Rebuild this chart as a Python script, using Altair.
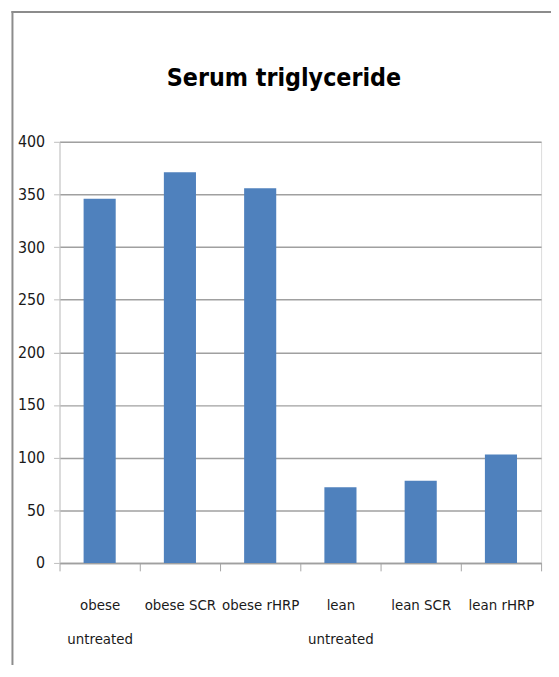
import altair as alt
import pandas as pd

categories = ["obese untreated", "obese SCR", "obese rHRP", "lean untreated", "lean SCR", "lean rHRP"]
values = [346, 371, 356, 72, 78, 103]
y_ticks = [0, 50, 100, 150, 200, 250, 300, 350, 400]
title_text = ["Serum triglyceride"]

df = pd.DataFrame({"group": categories, "value": values})

W, H = 486, 425
FONT = "DejaVu Sans Condensed, sans-serif"

bars = alt.Chart(df).mark_bar(color="#4F81BD", width={"band": 0.4}).encode(
    x=alt.X(
        "group:N",
        sort=categories,
        scale=alt.Scale(paddingInner=0, paddingOuter=0),
        axis=alt.Axis(
            title=None, labelAngle=0, tickBand="extent", tickSize=8,
            tickColor="#a6a6a6", domainColor="#a0a0a0", domainWidth=1.5,
            labelFont=FONT, labelFontSize=15, labelColor="#1a1a1a",
            labelPadding=27, labelLineHeight=34, grid=False,
            labelExpr="indexof(datum.label, 'untreated') >= 0 ? split(datum.label, ' ') : datum.label",
        ),
    ),
    y=alt.Y(
        "value:Q",
        scale=alt.Scale(domain=[0, 400]),
        axis=alt.Axis(
            title=None, values=y_ticks, grid=True, gridColor="#a0a0a0", gridWidth=1.5,
            tickSize=6, tickColor="#bdbdbd", domainColor="#c8c8c8",
            labelFont=FONT, labelFontSize=16, labelColor="#1a1a1a", labelPadding=9,
        ),
    ),
)

title = alt.Chart(pd.DataFrame({"t": title_text})).mark_text(
    font=FONT, fontSize=25, fontWeight="bold", align="center", baseline="alphabetic", color="#000000"
).encode(x=alt.value(226.5), y=alt.value(-56), text="t:N")

frame = pd.DataFrame({"a": [0]})
top_border = alt.Chart(frame).mark_rule(color="#8c8c8c", strokeWidth=2).encode(
    x=alt.value(-48.5), x2=alt.value(W + 10), y=alt.value(-131)
)
left_border = alt.Chart(frame).mark_rule(color="#8c8c8c", strokeWidth=2).encode(
    x=alt.value(-47.5), y=alt.value(-132), y2=alt.value(H + 103)
)

chart = alt.layer(bars, title, top_border, left_border).properties(
    width=W, height=H,
    padding={"left": 52, "top": 132, "right": 10, "bottom": 103},
    autosize="none",
).configure_view(stroke=None).configure(background="white")

chart.save("out.html", embed_options={"renderer": "svg", "actions": False})
